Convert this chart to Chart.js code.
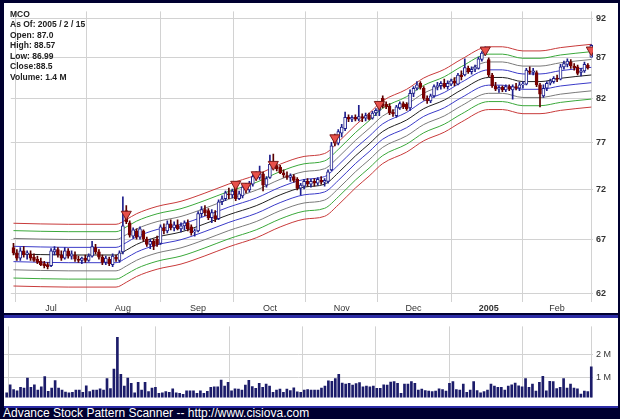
<!DOCTYPE html>
<html>
<head>
<meta charset="utf-8">
<script src="https://cdn.jsdelivr.net/npm/chart.js@4.4.1/dist/chart.umd.min.js"></script>
<style>
  html, body { margin:0; padding:0; }
  body { width:620px; height:419px; background:#000030; position:relative; overflow:hidden;
         font-family: Arial, "Liberation Sans", sans-serif; }
  #pricePanel { position:absolute; left:4px; top:3px; width:614px; height:310px; background:#fff; }
  #volPanel { position:absolute; left:4px; top:315px; width:614px; height:88px; background:#fff;
              border-top:3px solid #2c2ca6; border-bottom:2px solid #2c2ca6; }
  #info { position:absolute; left:10px; top:8.5px; font-size:8.5px; font-weight:bold; line-height:10.5px; color:#222; }
  #footer { position:absolute; left:3px; top:406px; font-size:12px; line-height:14px; color:#fff; }
  canvas { display:block; }
</style>
</head>
<body>
<div id="pricePanel"><canvas id="price" width="614" height="310"></canvas></div>
<div id="volPanel"><canvas id="vol" width="614" height="88"></canvas></div>
<div id="info">MCO<br>As Of: 2005 / 2 / 15<br>Open: 87.0<br>High: 88.57<br>Low: 86.99<br>Close:88.5<br>Volume: 1.4 M</div>
<div id="footer">Advance Stock Pattern Scanner -- http://www.cisiova.com</div>
<script>
// daily bars, 2004-06-16 .. 2005-02-15 (index = trading day)
var open = [
  66.2,65.7,65.2,65.9,65.6,65.6,65.3,65.1,64.9,64.7, 64.6,64.5,65.8,66.0,65.5,65.2,65.9,65.4,65.5,65.1,
  65.0,65.2,65.0,65.4,66.2,65.8,65.3,64.8,65.1,64.6, 65.3,65.0,65.8,69.8,68.6,67.3,67.8,67.2,67.8,67.0,
  66.5,66.8,67.0,66.6,68.1,67.8,68.5,68.1,68.4,68.0, 68.3,68.6,68.2,67.7,67.8,69.5,69.9,69.8,69.1,69.3,
  69.0,70.7,71.0,71.5,71.4,72.2,71.0,71.3,72.4,71.9, 72.5,73.4,73.2,73.6,72.4,73.2,74.6,74.4,74.3,73.7,
  73.4,73.2,73.3,73.0,72.1,72.3,72.8,72.5,72.8,72.6, 72.9,72.7,72.8,74.0,77.4,76.9,78.0,78.5,79.8,79.6,
  79.8,79.6,79.9,79.7,80.1,79.7,80.3,80.6,82.0,81.3, 81.1,80.4,80.0,80.9,81.4,81.3,80.9,82.6,83.2,83.8,
  83.2,82.0,81.7,82.3,83.4,83.5,83.8,83.4,83.7,84.1, 83.7,84.8,84.8,85.6,85.2,85.5,85.6,86.7,87.5,86.7,
  84.8,83.5,83.1,83.3,83.0,83.4,83.0,83.4,83.2,83.6, 83.7,85.3,85.1,85.1,83.6,82.3,83.2,83.8,84.0,84.4,
  84.3,85.8,86.1,86.4,85.9,85.8,85.1,85.3,86.0,87.0
];
var high = [
  66.6,66.0,66.2,66.3,65.9,65.9,65.6,65.4,65.2,64.9, 64.8,66.1,66.3,66.2,65.9,66.2,66.1,65.9,65.8,65.4,
  65.3,65.5,65.6,66.8,66.5,66.0,65.5,65.4,65.3,65.6, 65.5,65.9,71.2,70.3,68.8,68.1,68.0,68.2,67.9,67.2,
  67.0,67.0,67.3,68.4,68.5,68.8,68.9,68.7,68.9,68.6, 68.8,68.9,68.4,68.0,69.7,70.2,70.3,70.0,69.9,69.8,
  70.9,71.3,71.8,72.1,72.0,72.6,71.8,72.4,72.6,72.8, 73.5,73.8,74.4,73.8,73.3,75.6,75.7,74.8,74.5,74.0,
  73.8,73.6,73.5,73.2,72.6,73.0,73.1,73.0,73.1,73.2, 73.3,73.1,74.0,77.0,77.9,78.4,79.0,80.4,80.1,80.0,
  80.1,81.2,80.2,80.3,80.3,80.5,80.8,81.4,82.3,81.6, 81.4,80.7,81.2,81.6,81.6,81.5,83.0,83.4,84.0,84.0,
  83.4,82.3,82.5,83.6,83.9,84.0,84.3,84.1,84.3,84.5, 85.0,85.3,86.8,85.9,85.8,86.0,87.0,87.7,88.3,86.9,
  85.0,83.9,83.5,83.5,83.6,83.6,83.6,83.8,83.9,84.0, 85.6,85.8,85.6,85.3,83.8,83.6,84.0,84.3,84.6,84.8,
  86.1,86.5,86.8,86.7,86.2,86.0,85.6,86.4,86.2,88.57
];
var low = [
  65.5,65.0,65.0,65.3,65.1,65.0,64.9,64.7,64.5,64.3, 64.2,64.4,65.5,65.3,65.0,65.1,65.2,65.1,64.9,64.8,
  64.7,64.8,64.9,65.3,65.6,65.1,64.6,64.6,64.5,64.4, 64.9,64.8,65.6,68.5,67.2,67.1,67.0,67.0,66.8,66.3,
  66.1,66.0,66.3,66.5,67.5,67.6,67.9,67.8,67.9,67.7, 67.9,67.8,67.4,67.3,67.7,69.2,69.3,68.9,68.6,68.7,
  68.9,70.4,70.8,71.0,71.1,70.8,70.9,71.1,71.6,71.7, 72.3,72.9,73.0,71.8,72.2,73.1,74.0,73.9,73.6,73.2,
  73.0,72.8,72.7,71.9,71.4,72.0,72.3,72.2,72.3,72.4, 72.5,72.3,72.6,73.9,76.6,76.7,77.6,78.3,79.3,79.3,
  79.4,79.4,79.3,79.4,79.5,79.6,80.0,80.0,80.9,80.8, 80.1,79.9,79.8,80.7,80.8,80.6,80.6,82.2,83.0,83.1,
  81.8,81.4,81.5,82.1,83.0,83.1,83.2,83.1,83.5,83.5, 83.6,84.2,84.7,85.0,84.9,85.2,85.5,86.5,87.2,84.6,
  83.3,82.9,82.7,82.8,82.8,82.9,81.9,83.0,82.9,83.2, 83.6,84.9,84.8,83.4,81.0,82.1,82.9,83.6,83.8,84.0,
  84.2,85.5,85.8,85.6,85.4,84.8,84.7,85.1,85.5,86.99
];
var close = [
  65.7,65.2,65.9,65.5,65.7,65.2,65.0,64.8,64.6,64.5, 64.4,65.9,66.0,65.5,65.2,65.9,65.4,65.6,65.1,65.0,
  65.2,65.0,65.4,66.3,65.8,65.3,64.8,65.2,64.7,65.4, 65.1,65.7,68.3,68.7,67.4,67.9,67.2,68.0,67.0,66.5,
  66.8,66.3,66.5,68.2,67.8,68.5,68.1,68.4,68.0,68.3, 68.6,68.0,67.6,67.8,69.5,69.9,69.6,69.1,69.6,69.0,
  70.7,71.0,71.6,71.4,71.8,71.0,71.5,72.2,71.9,72.6, 73.3,73.1,73.6,72.4,73.1,74.6,74.4,74.1,73.7,73.5,
  73.2,73.4,72.9,72.1,72.4,72.8,72.5,72.8,72.6,73.0, 72.7,72.9,73.8,76.6,76.9,78.2,78.7,79.8,79.6,79.8,
  79.6,79.9,79.7,80.0,79.6,80.3,80.6,81.1,81.1,81.0, 80.3,80.2,81.0,81.4,81.0,80.8,82.6,83.2,83.6,83.3,
  82.0,81.7,82.3,83.4,83.5,83.8,83.4,83.8,84.1,83.8, 84.8,84.6,85.7,85.2,85.5,85.8,86.8,87.5,88.0,84.8,
  83.5,83.1,83.3,83.0,83.4,83.1,83.4,83.2,83.6,83.7, 85.4,85.1,85.3,83.6,82.5,83.2,83.8,84.1,84.4,84.3,
  85.8,86.2,86.5,85.9,85.7,85.0,85.3,86.1,85.7,88.5
];
// volume in millions
var volume = [
  0.32,0.67,0.46,0.40,0.56,0.52,0.96,0.56,0.67,0.44, 0.58,1.02,0.38,0.52,0.85,0.52,0.44,0.35,0.32,0.34,
  0.44,0.44,0.34,0.62,0.37,0.44,0.44,0.49,0.44,0.94, 0.50,1.35,2.73,1.12,0.61,0.96,0.73,0.32,0.77,0.44,
  0.77,0.37,0.52,0.56,0.29,0.32,0.37,0.34,0.49,0.32, 0.29,0.25,0.40,0.40,0.40,0.29,0.40,0.29,0.38,0.56,
  0.58,0.58,0.87,0.61,0.77,0.40,0.49,0.48,0.44,0.65, 0.86,0.59,0.51,0.73,0.56,0.70,0.61,0.34,0.44,0.48,
  0.34,0.48,0.41,0.53,0.36,0.34,0.44,0.46,0.44,0.44, 0.44,0.52,0.61,0.84,0.82,0.94,1.12,0.74,0.70,0.73,
  0.65,0.72,0.76,0.58,0.61,0.58,0.61,0.51,0.51,0.67, 0.65,0.79,0.81,0.73,0.30,0.70,0.70,0.81,0.73,0.44,
  0.48,0.41,0.39,0.37,0.39,0.49,0.46,0.39,0.73,0.81, 0.46,0.44,0.70,0.34,0.44,0.81,0.41,0.32,0.37,0.44,
  0.70,0.61,0.56,0.56,0.44,0.61,0.67,0.74,0.62,0.58, 0.94,0.56,0.70,0.39,0.77,1.03,0.40,0.82,0.81,0.50,
  0.56,0.94,0.52,0.70,0.52,0.49,0.26,0.39,0.37,1.45
];
var bandIdx = [0,16,30,33,36,42,49,56,63,71,78,85,91,95,100,104,108,115,120,126,131,139,143,149,154,160,169];
var bandMid = [65.6,65.5,65.5,65.95,66.5,67.2,67.7,68.5,69.4,70.3,71.4,72.2,72.5,73.7,75.5,76.8,78.2,79.5,80.8,81.8,83.0,84.5,84.5,84.0,84.0,84.4,84.8];
var bandPct = [4.5, 3.4, 2.25, 1.1, 0, -1.1, -2.25, -3.4, -4.5];
var bandColors = ['#c83a3a','#3aa83a','#7a7a7a','#3a3ac8','#202020','#3a3ac8','#7a7a7a','#3aa83a','#c83a3a'];
// signal markers (red triangles)
var sigIdx = [33,65,68,71,76,94,107,138,169];
var sigPrice = [69.45,72.5,72.3,73.5,74.6,77.5,81.3,87.9,87.9];
// axis ticks
var monthIdx = [11,32,54,75,96,117,139,159];
var monthLabels = ['Jul','Aug','Sep','Oct','Nov','Dec','2005','Feb'];
var priceTicks = [62,67,72,77,82,87,92];
var volTicks = [1,2];

var FONT = 'Arial, "Liberation Sans", sans-serif';
var GRID = '#d2d2d2';
var UP = '#1e1e8c', DOWN = '#7a0000';

var isUp = close.map(function(c, i){ return c >= open[i]; });

var bandSets = bandPct.map(function(p, k){
  return {
    type: 'line', order: 3,
    data: bandIdx.map(function(x, j){ return {x: x, y: bandMid[j] * (1 + p / 100)}; }),
    borderColor: bandColors[k], borderWidth: 1, pointRadius: 0,
    cubicInterpolationMode: 'monotone', fill: false
  };
});

var xScale = {
  type: 'linear', min: -0.78, max: 169.5, offset: false,
  border: {display: false},
  afterBuildTicks: function(s){ s.ticks = monthIdx.map(function(v){ return {value: v}; }); }
};

new Chart(document.getElementById('price'), {
  type: 'bar',
  data: {
    datasets: bandSets.concat([
      {
        order: 2, grouped: false, barThickness: 1, borderWidth: 0,
        data: close.map(function(c, i){ return {x: i, y: [low[i], high[i]]}; }),
        backgroundColor: isUp.map(function(u){ return u ? UP : '#5a0000'; })
      },
      {
        order: 1, grouped: false, barThickness: 3, borderWidth: 1, borderSkipped: false, minBarLength: 1,
        data: close.map(function(c, i){ return {x: i, y: [open[i], c]}; }),
        backgroundColor: isUp.map(function(u){ return u ? '#ffffff' : DOWN; }),
        borderColor: isUp.map(function(u){ return u ? UP : DOWN; })
      },
      {
        type: 'line', order: 0, showLine: false,
        data: sigIdx.map(function(x, j){ return {x: x, y: sigPrice[j]}; }),
        pointStyle: 'triangle', rotation: 180, pointRadius: 5.8,
        backgroundColor: '#e8504a', borderColor: '#7a1a1a', borderWidth: 1
      }
    ])
  },
  options: {
    responsive: false, animation: false, devicePixelRatio: 1, events: [],
    layout: {padding: {top: 1, left: 0, right: 0, bottom: 0}},
    plugins: {legend: {display: false}, tooltip: {enabled: false}},
    scales: {
      x: Object.assign({}, xScale, {
        afterFit: function(s){ s.height = 15; },
        grid: {color: GRID, drawTicks: true, tickLength: 4, tickColor: GRID},
        ticks: {
          autoSkip: false, maxRotation: 0, padding: 1, color: '#333',
          font: function(c){ return {size: 9, family: FONT, weight: c.index === 6 ? 'bold' : 'normal'}; },
          callback: function(v, i){ return monthLabels[i]; }
        }
      }),
      y: {
        type: 'logarithmic', position: 'right', min: 61.58, max: 92.9,
        border: {display: false},
        afterBuildTicks: function(s){ s.ticks = priceTicks.map(function(v){ return {value: v}; }); },
        afterFit: function(s){ s.width = 25; },
        grid: {color: GRID, drawTicks: false},
        ticks: {padding: 3, color: '#333', font: {size: 9, weight: 'bold', family: FONT},
                callback: function(v){ return String(v); }}
      }
    }
  }
});

new Chart(document.getElementById('vol'), {
  type: 'bar',
  data: {
    datasets: [{
      grouped: false, barThickness: 2, borderWidth: 0,
      data: volume.map(function(v, i){ return {x: i, y: v}; }),
      backgroundColor: '#1c1c6a'
    }]
  },
  options: {
    responsive: false, animation: false, devicePixelRatio: 1, events: [],
    layout: {padding: 0},
    plugins: {legend: {display: false}, tooltip: {enabled: false}},
    scales: {
      x: Object.assign({}, xScale, {
        afterFit: function(s){ s.height = 0; },
        grid: {color: GRID, drawTicks: false},
        ticks: {display: false}
      }),
      y: {
        type: 'linear', position: 'right', min: 0.109, max: 3.21,
        border: {display: false},
        afterBuildTicks: function(s){ s.ticks = volTicks.map(function(v){ return {value: v}; }); },
        afterFit: function(s){ s.width = 25; },
        grid: {color: GRID, drawTicks: false},
        ticks: {padding: 3, color: '#333', font: {size: 9, family: FONT},
                callback: function(v){ return v + ' M'; }}
      }
    }
  }
});
</script>
</body>
</html>
